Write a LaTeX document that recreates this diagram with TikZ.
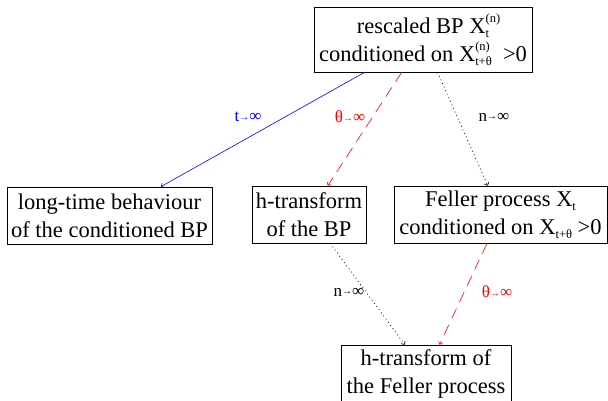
\documentclass[tikz,border=0pt]{standalone}
\usepackage{fontspec}
\setmainfont{Liberation Serif}
\usetikzlibrary{arrows.meta}
% stacked superscript/subscript on a symbol set in text
\newcommand\idxfont{\fontsize{12.5}{12.5}\selectfont}
\newcommand\supsub[2]{\makebox[0pt][l]{\raisebox{11pt}{\idxfont #1}}\raisebox{-4pt}{\idxfont #2}}
\newcommand\subonly[1]{\raisebox{-4pt}{\idxfont #1}}
% limit label such as "n -> infinity" with a small arrow
\newcommand\tendsto[1]{#1{\fontsize{10}{10}\selectfont\raisebox{1.5pt}{→}}∞}
\begin{document}
\begin{tikzpicture}[x=1pt,y=-1pt,
  box/.style={draw, line width=0.7pt, inner sep=0pt, align=center,
              font=\fontsize{22.5}{28}\selectfont},
  lab/.style={inner sep=0pt, font=\fontsize{17}{17}\selectfont},
  conn/.style={line width=0.6pt, -{To[length=3pt,width=5pt]}},
  dashedred/.style={conn, red, dash pattern=on 11pt off 7pt},
  dottedblack/.style={conn, black, line width=0.7pt, dash pattern=on 0.9pt off 3pt}]
\useasboundingbox (0,0) rectangle (608,400);

\node[box, minimum width=218, minimum height=65] (top) at (423,39.5)
  {rescaled BP X\supsub{(n)}{t}\\conditioned on X\supsub{(n)}{t+θ}\ \ >0};
\node[box, minimum width=205, minimum height=57] (long) at (109.5,215.5)
  {long-time behaviour\\of the conditioned BP};
\node[box, minimum width=114, minimum height=57] (htbp) at (309,214.5)
  {h-transform\\of the BP};
\node[box, minimum width=213, minimum height=57] (feller) at (500.5,214.5)
  {Feller process X\subonly{t}\\conditioned on X\subonly{t+θ} >0};
\node[box, minimum width=170, minimum height=57] (htfeller) at (426,373.5)
  {h-transform of\\the Feller process};

\draw[conn, blue] (top) -- (long);
\draw[dashedred] (top) -- (htbp);
\draw[dottedblack] (top) -- (feller);
\draw[dottedblack] (htbp) -- (htfeller);
\draw[dashedred] (feller) -- (htfeller);

\node[lab, blue] (l1) at (248,117) {\tendsto{t}};
\node[lab, red] (l2) at (350,117) {\tendsto{θ}};
\node[lab] (l3) at (494,117) {\tendsto{n}};
\node[lab] (l4) at (349,292) {\tendsto{n}};
\node[lab, red] (l5) at (497,292) {\tendsto{θ}};
\end{tikzpicture}
\end{document}
